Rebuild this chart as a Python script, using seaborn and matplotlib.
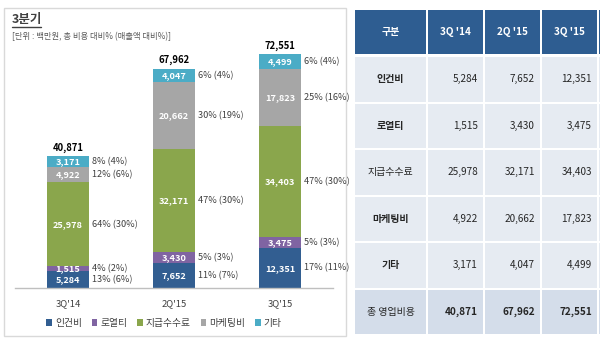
import matplotlib
matplotlib.use("Agg")
import matplotlib.pyplot as plt
import matplotlib.transforms as mtransforms
from matplotlib.patches import Rectangle, Patch
from matplotlib.lines import Line2D
import seaborn as sns
import pandas as pd
import numpy as np

# ---------------- data ----------------
quarters = ["3Q'14", "2Q'15", "3Q'15"]
table_headers = ["구분", "3Q '14", "2Q '15", "3Q '15"]
categories = ["인건비", "로열티", "지급수수료", "마케팅비", "기타"]
labor = [5284, 7652, 12351]
royalty = [1515, 3430, 3475]
fees = [25978, 32171, 34403]
marketing = [4922, 20662, 17823]
other = [3171, 4047, 4499]
totals = [40871, 67962, 72551]
pct_labor = ["13% (6%)", "11% (7%)", "17% (11%)"]
pct_royalty = ["4% (2%)", "5% (3%)", "5% (3%)"]
pct_fees = ["64% (30%)", "47% (30%)", "47% (30%)"]
pct_marketing = ["12% (6%)", "30% (19%)", "25% (16%)"]
pct_other = ["8% (4%)", "6% (4%)", "6% (4%)"]
total_label = "총 영업비용"
title = "3분기"
subtitle = "[단위 : 백만원, 총 비용 대비% (매출액 대비%)]"

series = [labor, royalty, fees, marketing, other]
pcts = [pct_labor, pct_royalty, pct_fees, pct_marketing, pct_other]
colors = ["#325E91", "#8064A2", "#8AA64C", "#A6A6A6", "#4BACC6"]

sns.set_style("white")
plt.rcParams['font.family'] = ['Noto Sans CJK KR', 'DejaVu Sans']

W, H = 600, 343
fig = plt.figure(figsize=(6, 3.43), dpi=100)

# background / layout axes in pixel coordinates
bg = fig.add_axes([0, 0, 1, 1], zorder=0)
bg.set_xlim(0, W)
bg.set_ylim(H, 0)
bg.axis('off')

# panel border
bg.add_patch(Rectangle((4, 8), 342, 328, facecolor='white', edgecolor='#D9D9D9', lw=1))
bg.text(12, 20, title, fontsize=9, fontweight='bold', color='#404040', ha='left', va='center')
bg.add_line(Line2D([12, 41], [26.8, 26.8], color='#404040', lw=1))
bg.text(12, 37, subtitle, fontsize=6.0, color='#595959', ha='left', va='center')

# ---------------- stacked bar chart ----------------
base_y = 288
scale = 0.00322  # px per unit
ymax = 80000
ax_h = ymax * scale
ax = fig.add_axes([15 / W, 1 - base_y / H, (333 - 15) / W, ax_h / H], zorder=2)
ax.patch.set_alpha(0)

cum = np.cumsum(np.array(series), axis=0)
rows = []
for ci, c in enumerate(categories):
    for qi, q in enumerate(quarters):
        rows.append({"quarter": q, "category": c, "value": series[ci][qi], "cum": cum[ci][qi]})
df = pd.DataFrame(rows)

for ci in reversed(range(len(categories))):
    sub = df[df.category == categories[ci]]
    sns.barplot(data=sub, x="quarter", y="cum", order=quarters, color=colors[ci],
                saturation=1, width=0.4, errorbar=None, linewidth=0, ax=ax)

ax.set_xlim(-0.5, 2.5)
ax.set_ylim(0, ymax)
ax.set_xlabel("")
ax.set_ylabel("")
for s in ["top", "right", "left"]:
    ax.spines[s].set_visible(False)
ax.spines["bottom"].set_color("#BFBFBF")
ax.spines["bottom"].set_linewidth(1)
ax.set_yticks([])
ax.set_xticks([-0.5, 0.5, 1.5, 2.5])
ax.set_xticklabels([])
ax.tick_params(axis='x', which='major', direction='out', length=4, color='#BFBFBF', width=1)
ax.set_xticks([0, 1, 2], minor=True)
ax.set_xticklabels(quarters, minor=True)
ax.tick_params(axis='x', which='minor', length=0, pad=8, labelsize=6.8, labelcolor='#404040')

off_right = mtransforms.offset_copy(ax.transData, fig=fig, x=2.5, y=0, units='dots')
off_top = mtransforms.offset_copy(ax.transData, fig=fig, x=0, y=9, units='dots')
for ci in range(len(categories)):
    for qi in range(len(quarters)):
        v = series[ci][qi]
        center = cum[ci][qi] - v / 2
        ax.text(qi, center, f"{v:,}", ha='center', va='center', color='white',
                fontweight='bold', fontsize=6.6)
        ax.text(qi + 0.2, center, pcts[ci][qi], ha='left', va='center', color='#404040',
                fontsize=6.6, transform=off_right)
for qi, t in enumerate(totals):
    ax.text(qi, t, f"{t:,}", ha='center', va='center', color='black', fontweight='bold',
            fontsize=6.8, transform=off_top)

handles = [Patch(facecolor=colors[i], edgecolor='none') for i in range(len(categories))]
leg = fig.legend(handles, categories, loc='center', bbox_to_anchor=(164 / W, 1 - 323 / H),
                 ncol=5, frameon=False, handlelength=0.6, handleheight=0.6,
                 handletextpad=0.3, columnspacing=1.0, fontsize=7)
for t in leg.get_texts():
    t.set_color('#404040')

# ---------------- table ----------------
col_edges = [354, 427, 484, 541, 598, 602]
header_top, header_bot = 10, 54
row_top, row_h = 56, 46.5
header_color = "#2E5D91"
cell_color = "#E6EBF2"
last_color = "#D4DDEA"
gap = 0.8

for j in range(len(col_edges) - 1):
    x0, x1 = col_edges[j], col_edges[j + 1]
    bg.add_patch(Rectangle((x0 + gap, header_top), x1 - x0 - 2 * gap, header_bot - header_top,
                           facecolor=header_color, edgecolor='none'))
    if j < len(table_headers):
        bg.text((x0 + x1) / 2, (header_top + header_bot) / 2, table_headers[j], color='white',
                fontweight='bold', fontsize=7.2, ha='center', va='center')

row_labels = categories + [total_label]
row_values = series + [totals]
label_bold = [True, True, False, True, True, False]
for r in range(len(row_labels)):
    y0 = row_top + r * row_h
    fc = last_color if r == len(row_labels) - 1 else cell_color
    for j in range(len(col_edges) - 1):
        x0, x1 = col_edges[j], col_edges[j + 1]
        bg.add_patch(Rectangle((x0 + gap, y0 + 1), x1 - x0 - 2 * gap, row_h - 2,
                               facecolor=fc, edgecolor='none'))
    yc = y0 + row_h / 2
    bg.text((col_edges[0] + col_edges[1]) / 2, yc, row_labels[r], color='#262626',
            fontweight='bold' if label_bold[r] else 'normal', fontsize=7.2,
            ha='center', va='center')
    for j in range(3):
        bg.text(col_edges[j + 2] - 6, yc, f"{row_values[r][j]:,}", color='#262626',
                fontweight='bold' if r == len(row_labels) - 1 else 'normal',
                fontsize=7.2, ha='right', va='center')

fig.savefig("out.png", dpi=100)
